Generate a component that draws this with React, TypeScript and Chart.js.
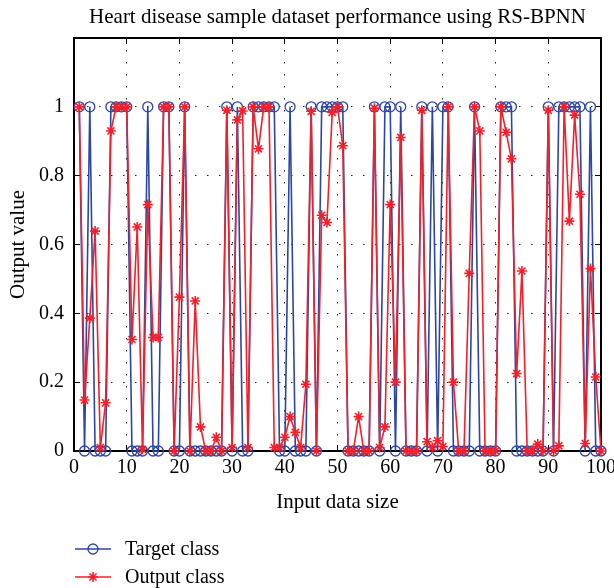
import React, { useEffect, useRef } from 'react';
import { Chart, registerables } from 'chart.js';
import { drawPoint } from 'chart.js/helpers';

Chart.register(...registerables);

const sampleIndex = [
  1, 2, 3, 4, 5, 6, 7, 8, 9, 10, 11, 12, 13, 14, 15, 16, 17, 18, 19, 20,
  21, 22, 23, 24, 25, 26, 27, 28, 29, 30, 31, 32, 33, 34, 35, 36, 37, 38, 39, 40,
  41, 42, 43, 44, 45, 46, 47, 48, 49, 50, 51, 52, 53, 54, 55, 56, 57, 58, 59, 60,
  61, 62, 63, 64, 65, 66, 67, 68, 69, 70, 71, 72, 73, 74, 75, 76, 77, 78, 79, 80,
  81, 82, 83, 84, 85, 86, 87, 88, 89, 90, 91, 92, 93, 94, 95, 96, 97, 98, 99, 100,
];

const targetClass = [
  1, 0, 1, 0, 0, 0, 1, 1, 1, 1,
  0, 0, 0, 1, 0, 0, 1, 1, 0, 0,
  1, 0, 0, 0, 0, 0, 0, 0, 1, 0,
  1, 0, 0, 1, 1, 1, 1, 1, 0, 0,
  1, 0, 0, 0, 1, 0, 1, 1, 1, 1,
  1, 0, 0, 0, 0, 0, 1, 0, 1, 1,
  0, 1, 0, 0, 0, 1, 0, 1, 0, 1,
  1, 0, 0, 0, 0, 1, 0, 0, 0, 0,
  1, 1, 1, 0, 0, 0, 0, 0, 0, 1,
  0, 1, 1, 1, 1, 1, 0, 1, 0, 0,
];

const outputClass = [
  1.0, 0.148, 0.386, 0.639, 0.01, 0.14, 0.93, 1.0, 1.0, 1.0,
  0.324, 0.651, 0.005, 0.716, 0.33, 0.33, 1.0, 1.0, 0.0, 0.447,
  1.0, 0.0, 0.436, 0.07, 0.0, 0.0, 0.04, 0.0, 0.99, 0.01,
  0.962, 0.988, 0.01, 1.0, 0.878, 1.0, 1.0, 0.01, 0.01, 0.04,
  0.1, 0.054, 0.01, 0.194, 0.987, 0.0, 0.685, 0.664, 0.984, 1.0,
  0.887, 0.0, 0.0, 0.1, 0.0, 0.0, 0.996, 0.01, 0.07, 0.716,
  0.2, 0.911, 0.0, 0.0, 0.0, 0.99, 0.027, 0.01, 0.03, 0.013,
  1.0, 0.2, 0.0, 0.0, 0.516, 1.0, 0.93, 0.0, 0.0, 0.0,
  1.0, 0.926, 0.849, 0.225, 0.523, 0.0, 0.0, 0.02, 0.0, 0.99,
  0.0, 0.015, 1.0, 0.668, 0.976, 0.746, 0.022, 0.53, 0.215, 0.0,
];

const seriesLabels = ['Target class', 'Output class'];
const chartTitle = 'Heart disease sample dataset performance using RS-BPNN';
const xAxisTitle = 'Input data size';
const yAxisTitle = 'Output value';
const xRange = [0, 100];
const xStep = 10;
const yRange = [0, 1.2];
const yStep = 0.2;

const FONT = "'Liberation Serif', 'Times New Roman', serif";
const BLUE = '#2C46A4';
const RED = '#F2202A';

const legendPlugin = {
  id: 'stackedLegend',
  afterDraw(chart: any) {
    const ctx = chart.ctx;
    const area = chart.chartArea;
    const x0 = area.left + 1;
    const lineLen = 36;
    chart.data.datasets.forEach((ds: any, i: number) => {
      const y = 549 + i * 28;
      ctx.save();
      ctx.strokeStyle = ds.borderColor;
      ctx.lineWidth = ds.borderWidth;
      ctx.beginPath();
      ctx.moveTo(x0, y);
      ctx.lineTo(x0 + lineLen, y);
      ctx.stroke();
      ctx.fillStyle = ds.pointBackgroundColor;
      ctx.strokeStyle = ds.pointBorderColor;
      ctx.lineWidth = ds.pointBorderWidth;
      drawPoint(
        ctx,
        { pointStyle: ds.pointStyle, radius: ds.pointRadius, borderWidth: ds.pointBorderWidth, rotation: 0 },
        x0 + lineLen / 2,
        y,
      );
      ctx.fillStyle = '#000';
      ctx.font = `20px ${FONT}`;
      ctx.textAlign = 'left';
      ctx.textBaseline = 'middle';
      ctx.fillText(ds.label, x0 + lineLen + 14, y + 1);
      ctx.restore();
    });
  },
};

export default function App() {
  const canvasRef = useRef<HTMLCanvasElement | null>(null);

  useEffect(() => {
    if (!canvasRef.current) return;
    const targetPoints = sampleIndex.map((x, i) => ({ x, y: targetClass[i] }));
    const outputPoints = sampleIndex.map((x, i) => ({ x, y: outputClass[i] }));

    const gridCommon = {
      color: '#222',
      lineWidth: 1,
      tickLength: -6,
      tickColor: '#000',
      tickWidth: 1,
    };

    const chart = new Chart(canvasRef.current, {
      type: 'line',
      data: {
        datasets: [
          {
            label: seriesLabels[0],
            data: targetPoints,
            borderColor: BLUE,
            borderWidth: 1.6,
            pointStyle: 'circle',
            pointRadius: 5,
            pointBorderWidth: 1.3,
            pointBorderColor: BLUE,
            pointBackgroundColor: 'rgba(0,0,0,0)',
            tension: 0,
            clip: false,
            order: 2,
          },
          {
            label: seriesLabels[1],
            data: outputPoints,
            borderColor: RED,
            borderWidth: 1.6,
            pointStyle: 'star',
            pointRadius: 5,
            pointBorderWidth: 1.6,
            pointBorderColor: RED,
            pointBackgroundColor: RED,
            tension: 0,
            clip: false,
            order: 1,
          },
        ],
      },
      options: {
        animation: false,
        responsive: false,
        devicePixelRatio: 1,
        layout: { padding: { left: 0, right: 13, top: 0, bottom: 70 } },
        plugins: {
          legend: { display: false },
          tooltip: { enabled: false },
          title: {
            display: true,
            text: chartTitle,
            fullSize: false,
            color: '#000',
            font: { family: FONT, size: 21, weight: 'normal' },
            padding: { top: 4.4, bottom: 8.4 },
          },
        },
        scales: {
          x: {
            type: 'linear',
            position: 'bottom',
            min: xRange[0],
            max: xRange[1],
            ticks: {
              stepSize: xStep,
              color: '#000',
              font: { family: FONT, size: 20 },
              padding: 11,
              maxRotation: 0,
              autoSkip: false,
            },
            grid: gridCommon,
            border: { display: true, color: '#000', width: 2, dash: [1.5, 10.5] },
            title: {
              display: true,
              text: xAxisTitle,
              color: '#000',
              font: { family: FONT, size: 21 },
              padding: { top: 0, bottom: 3.4 },
            },
            afterFit(scale: any) {
              scale.height = 67;
              scale.paddingLeft = 0;
              scale.paddingRight = 0;
            },
          },
          xTop: {
            type: 'linear',
            position: 'top',
            min: xRange[0],
            max: xRange[1],
            ticks: { display: false, stepSize: xStep },
            grid: { ...gridCommon, drawOnChartArea: false },
            border: { display: true, color: '#000', width: 2 },
            afterFit(scale: any) {
              scale.height = 0;
              scale.paddingLeft = 0;
              scale.paddingRight = 0;
            },
          },
          y: {
            type: 'linear',
            position: 'left',
            min: yRange[0],
            max: yRange[1],
            ticks: {
              stepSize: yStep,
              color: '#000',
              font: { family: FONT, size: 20 },
              padding: 16,
              callback: (v: any) => (Number(v) > 1.01 ? '' : String(Number(Number(v).toFixed(1)))),
            },
            grid: gridCommon,
            border: { display: true, color: '#000', width: 2, dash: [1.5, 10.5] },
            title: {
              display: true,
              text: yAxisTitle,
              color: '#000',
              font: { family: FONT, size: 21 },
              padding: { top: 5.4, bottom: 0 },
            },
            afterFit(scale: any) {
              scale.width = 74;
              scale.paddingTop = 0;
              scale.paddingBottom = 0;
            },
          },
          yRight: {
            type: 'linear',
            position: 'right',
            min: yRange[0],
            max: yRange[1],
            ticks: { display: false, stepSize: yStep },
            grid: { ...gridCommon, drawOnChartArea: false },
            border: { display: true, color: '#000', width: 2 },
            afterFit(scale: any) {
              scale.width = 0;
              scale.paddingTop = 0;
              scale.paddingBottom = 0;
            },
          },
        },
      } as any,
      plugins: [legendPlugin],
    });

    return () => chart.destroy();
  }, []);

  return (
    <div style={{ position: 'absolute', left: 0, top: 0, width: 614, height: 588, background: '#fff' }}>
      <canvas ref={canvasRef} width={614} height={588} style={{ display: 'block' }} />
    </div>
  );
}
